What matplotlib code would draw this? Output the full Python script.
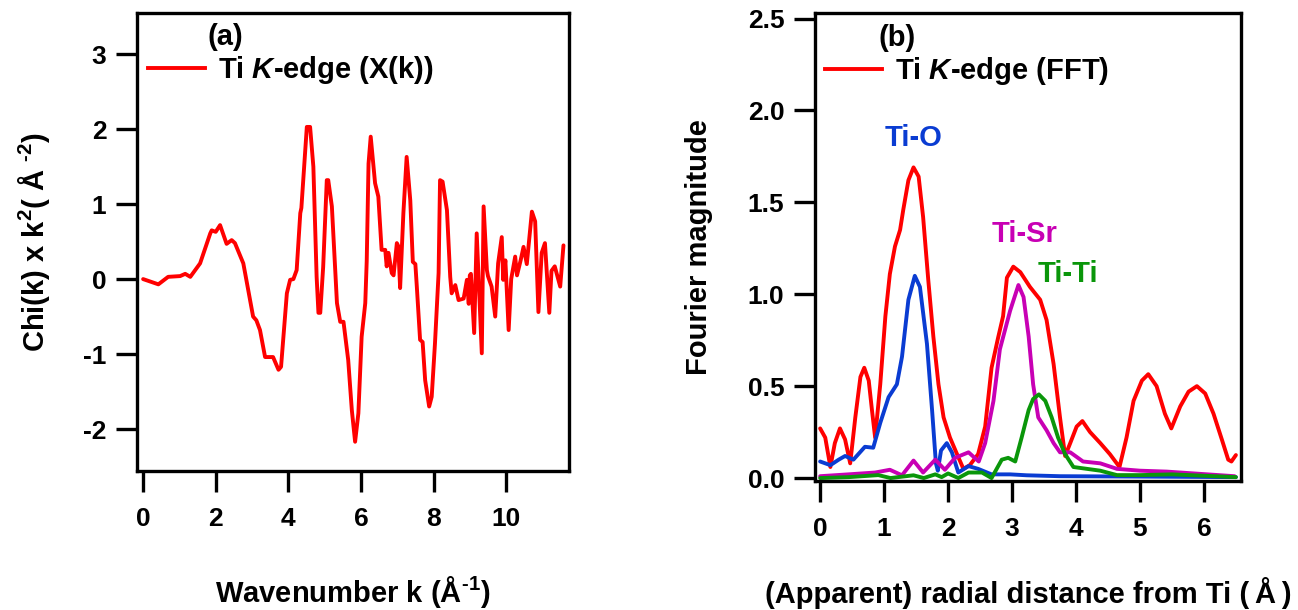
import matplotlib
matplotlib.use("Agg")
import matplotlib.pyplot as plt
from matplotlib.lines import Line2D

plt.rcParams['font.family'] = ['Liberation Sans', 'DejaVu Sans']
plt.rcParams['font.weight'] = 'bold'
plt.rcParams['axes.unicode_minus'] = False
plt.rcParams['mathtext.fontset'] = 'custom'
plt.rcParams['mathtext.rm'] = 'Liberation Sans:bold'
plt.rcParams['mathtext.bf'] = 'Liberation Sans:bold'
plt.rcParams['mathtext.it'] = 'Liberation Sans:bold:italic'
plt.rcParams['mathtext.default'] = 'rm'

# ---- Panel (a): chi(k) * k^2 ----
k_vals = [0.0, 0.42, 0.69, 1.02, 1.16, 1.30, 1.57, 1.85, 1.89, 2.0, 2.12, 2.3, 2.44, 2.53, 2.76,
          2.81, 3.03, 3.12, 3.22, 3.36, 3.58, 3.73, 3.80, 3.96, 4.05, 4.14, 4.23, 4.33, 4.36,
          4.51, 4.60, 4.69, 4.78, 4.83, 4.88, 4.96, 5.06, 5.10, 5.20, 5.30, 5.34, 5.43, 5.52,
          5.65, 5.75, 5.84, 5.93, 6.02, 6.12, 6.16, 6.21, 6.27, 6.39, 6.48, 6.57, 6.67, 6.71,
          6.76, 6.85, 6.90, 6.99, 7.03, 7.08, 7.17, 7.26, 7.36, 7.43, 7.50, 7.54, 7.63, 7.70,
          7.77, 7.88, 7.95, 8.04, 8.14, 8.18, 8.25, 8.37, 8.46, 8.50, 8.60, 8.69, 8.83, 8.92,
          8.97, 9.00, 9.03, 9.12, 9.19, 9.33, 9.38, 9.47, 9.50, 9.60, 9.70, 9.78, 9.88, 9.92,
          9.98, 10.07, 10.14, 10.25, 10.30, 10.40, 10.48, 10.57, 10.66, 10.71, 10.80, 10.89,
          10.98, 11.07, 11.19, 11.25, 11.34, 11.49, 11.58]
chi_vals = [0.0, -0.07, 0.03, 0.04, 0.07, 0.03, 0.21, 0.61, 0.65, 0.63, 0.72, 0.47, 0.52, 0.48, 0.21,
            0.08, -0.50, -0.55, -0.68, -1.04, -1.04, -1.21, -1.17, -0.19, -0.01, 0.0, 0.12, 0.88, 0.95,
            2.03, 2.03, 1.50, 0.03, -0.45, -0.45, 0.16, 1.32, 1.32, 0.97, 0.05, -0.32, -0.57, -0.57,
            -1.08, -1.75, -2.17, -1.79, -0.77, -0.32, 0.24, 1.54, 1.90, 1.28, 1.10, 0.39, 0.39, 0.17,
            0.35, 0.08, 0.05, 0.48, 0.44, -0.12, 0.88, 1.63, 1.05, 0.23, 0.20, -0.10, -0.81, -0.84,
            -1.35, -1.70, -1.57, -0.86, 0.08, 1.32, 1.30, 0.92, 0.03, -0.19, -0.08, -0.28, -0.26, -0.01,
            -0.33, 0.05, 0.07, -0.72, 0.61, -0.99, 0.97, 0.12, 0.04, -0.10, -0.50, 0.21, 0.56, -0.01,
            0.25, -0.68, 0.0, 0.30, 0.05, 0.25, 0.43, 0.20, 0.65, 0.90, 0.77, -0.44,
            0.35, 0.48, -0.45, 0.11, 0.17, -0.10, 0.45]

# ---- Panel (b): Fourier transform magnitude ----
r_fft = [0.0, 0.08, 0.16, 0.23, 0.31, 0.39, 0.47, 0.55, 0.63, 0.69, 0.76, 0.81, 0.86, 0.94, 1.02,
         1.09, 1.17, 1.25, 1.30, 1.38, 1.46, 1.54, 1.61, 1.69, 1.77, 1.85, 1.93, 2.03, 2.14, 2.24,
         2.34, 2.47, 2.58, 2.68, 2.78, 2.86, 2.92, 3.02, 3.13, 3.28, 3.44, 3.54, 3.65, 3.75, 3.83,
         3.91, 4.01, 4.10, 4.22, 4.38, 4.53, 4.68, 4.79, 4.90, 5.03, 5.13, 5.26, 5.39, 5.49, 5.63,
         5.76, 5.89, 6.02, 6.15, 6.28, 6.38, 6.43, 6.50]
fft_vals = [0.27, 0.22, 0.06, 0.19, 0.27, 0.21, 0.08, 0.33, 0.55, 0.60, 0.53, 0.37, 0.22, 0.51, 0.88,
            1.11, 1.26, 1.35, 1.46, 1.62, 1.69, 1.64, 1.42, 1.08, 0.77, 0.51, 0.33, 0.22, 0.13, 0.05,
            0.07, 0.13, 0.28, 0.60, 0.76, 0.88, 1.09, 1.15, 1.12, 1.04, 0.97, 0.86, 0.62, 0.33, 0.12,
            0.19, 0.28, 0.31, 0.25, 0.19, 0.13, 0.06, 0.22, 0.42, 0.53, 0.565, 0.50, 0.35, 0.27, 0.39,
            0.47, 0.50, 0.46, 0.35, 0.21, 0.10, 0.09, 0.125]

r_tio = [0.0, 0.16, 0.29, 0.39, 0.52, 0.70, 0.83, 0.94, 1.07, 1.20, 1.28, 1.38, 1.48, 1.56, 1.67,
         1.75, 1.81, 1.84, 1.89, 1.98, 2.06, 2.16, 2.32, 2.47, 2.68, 2.97, 3.23, 3.75, 5.0, 6.50]
tio_vals = [0.09, 0.07, 0.10, 0.12, 0.10, 0.17, 0.165, 0.30, 0.44, 0.51, 0.66, 0.97, 1.10, 1.04, 0.73,
            0.37, 0.08, 0.04, 0.15, 0.19, 0.14, 0.03, 0.065, 0.05, 0.02, 0.02, 0.015, 0.01, 0.008, 0.005]

r_tisr = [0.0, 0.44, 0.86, 1.09, 1.28, 1.46, 1.61, 1.80, 1.95, 2.11, 2.32, 2.48, 2.58, 2.71, 2.81,
          2.97, 3.10, 3.18, 3.26, 3.33, 3.41, 3.54, 3.65, 3.75, 3.91, 4.11, 4.38, 4.64, 5.0, 5.42, 6.48]
tisr_vals = [0.01, 0.02, 0.03, 0.045, 0.015, 0.095, 0.03, 0.10, 0.045, 0.11, 0.14, 0.09, 0.19, 0.42, 0.70,
             0.91, 1.05, 0.985, 0.77, 0.51, 0.33, 0.26, 0.19, 0.14, 0.14, 0.09, 0.08, 0.05, 0.04, 0.035, 0.01]

r_titi = [0.0, 0.45, 0.91, 1.10, 1.46, 1.62, 1.80, 1.90, 2.0, 2.16, 2.32, 2.53, 2.68, 2.84, 2.94,
          3.05, 3.15, 3.26, 3.33, 3.42, 3.52, 3.62, 3.72, 3.83, 3.96, 4.17, 4.38, 4.64, 5.0, 5.5, 6.50]
titi_vals = [0.0, 0.005, 0.016, 0.0, 0.015, 0.0, 0.02, 0.005, 0.025, 0.0, 0.03, 0.03, 0.0, 0.10, 0.11,
             0.09, 0.22, 0.37, 0.43, 0.455, 0.42, 0.33, 0.22, 0.13, 0.06, 0.05, 0.04, 0.016, 0.016, 0.02, 0.005]

RED = '#ff0000'
BLUE = '#0a3cd2'
MAGENTA = '#c800b4'
GREEN = '#0a960a'
LW = 2.8
FS_TICK = 19
FS_LAB = 21

fig = plt.figure(figsize=(12.98, 6.10), dpi=100)
ax1 = fig.add_axes([0.1055, 0.2279, 0.3328, 0.7508])
ax2 = fig.add_axes([0.6279, 0.2115, 0.3282, 0.7672])

for ax in (ax1, ax2):
    for s in ax.spines.values():
        s.set_linewidth(2.4)
    ax.tick_params(direction='out', length=15, width=2.4, labelsize=FS_TICK, pad=7)
    ax.tick_params(axis='x', pad=11)

line_kw = dict(lw=LW, solid_joinstyle='round', solid_capstyle='round')

# Panel (a)
ax1.plot(k_vals, chi_vals, color=RED, **line_kw)
ax1.set_xlim(-0.17, 11.73)
ax1.set_ylim(-2.56, 3.55)
ax1.set_xticks([0, 2, 4, 6, 8, 10])
ax1.set_yticks([-2, -1, 0, 1, 2, 3])
ax1.set_xlabel(r'Wavenumber k (Å$^{\text{-1}}$)', fontsize=FS_LAB, fontweight='bold')
ax1.xaxis.label.set_va('baseline')
ax1.xaxis.set_label_coords(0.5, -0.286)
ax1.set_ylabel(r'Chi(k) x k$^{2}$( Å $^{\text{-2}}$)', fontsize=FS_LAB, fontweight='bold')
ax1.yaxis.set_label_coords(-0.197, 0.5)
h1 = Line2D([], [], color=RED, lw=LW)
ax1.legend([h1], [r'Ti $\mathit{K}$-edge (X(k))'], loc='center left', frameon=False,
           fontsize=FS_LAB, bbox_to_anchor=(0.0255, 0.8755), handlelength=1.95,
           handletextpad=0.45, borderpad=0, borderaxespad=0)
ax1.text(0.164, 0.948, '(a)', transform=ax1.transAxes, fontsize=FS_LAB, fontweight='bold',
         ha='left', va='center')

# Panel (b)
ax2.plot(r_fft, fft_vals, color=RED, **line_kw)
ax2.plot(r_tio, tio_vals, color=BLUE, **line_kw)
ax2.plot(r_tisr, tisr_vals, color=MAGENTA, **line_kw)
ax2.plot(r_titi, titi_vals, color=GREEN, **line_kw)
ax2.set_xlim(-0.08, 6.58)
ax2.set_ylim(-0.016, 2.53)
ax2.set_xticks([0, 1, 2, 3, 4, 5, 6])
ax2.set_yticks([0.0, 0.5, 1.0, 1.5, 2.0, 2.5])
ax2.set_yticklabels(['0.0', '0.5', '1.0', '1.5', '2.0', '2.5'])
ax2.set_xlabel('(Apparent) radial distance from Ti (\u2009Å\u2009)', fontsize=FS_LAB, fontweight='bold')
ax2.xaxis.label.set_va('baseline')
ax2.xaxis.set_label_coords(0.5, -0.260)
ax2.set_ylabel('Fourier magnitude', fontsize=FS_LAB, fontweight='bold')
ax2.yaxis.set_label_coords(-0.239, 0.5)
h2 = Line2D([], [], color=RED, lw=LW)
ax2.legend([h2], [r'Ti $\mathit{K}$-edge (FFT)'], loc='center left', frameon=False,
           fontsize=FS_LAB, bbox_to_anchor=(0.0235, 0.876), handlelength=1.95,
           handletextpad=0.45, borderpad=0, borderaxespad=0)
ax2.text(0.148, 0.947, '(b)', transform=ax2.transAxes, fontsize=FS_LAB, fontweight='bold',
         ha='left', va='center')
ax2.text(1.46, 1.85, 'Ti-O', color=BLUE, fontsize=FS_LAB, fontweight='bold', ha='center', va='center')
ax2.text(3.19, 1.33, 'Ti-Sr', color=MAGENTA, fontsize=FS_LAB, fontweight='bold', ha='center', va='center')
ax2.text(3.88, 1.11, 'Ti-Ti', color=GREEN, fontsize=FS_LAB, fontweight='bold', ha='center', va='center')

for ax in (ax1, ax2):
    for lab in ax.get_xticklabels() + ax.get_yticklabels():
        lab.set_fontweight('bold')

fig.savefig('out.png', dpi=100)
